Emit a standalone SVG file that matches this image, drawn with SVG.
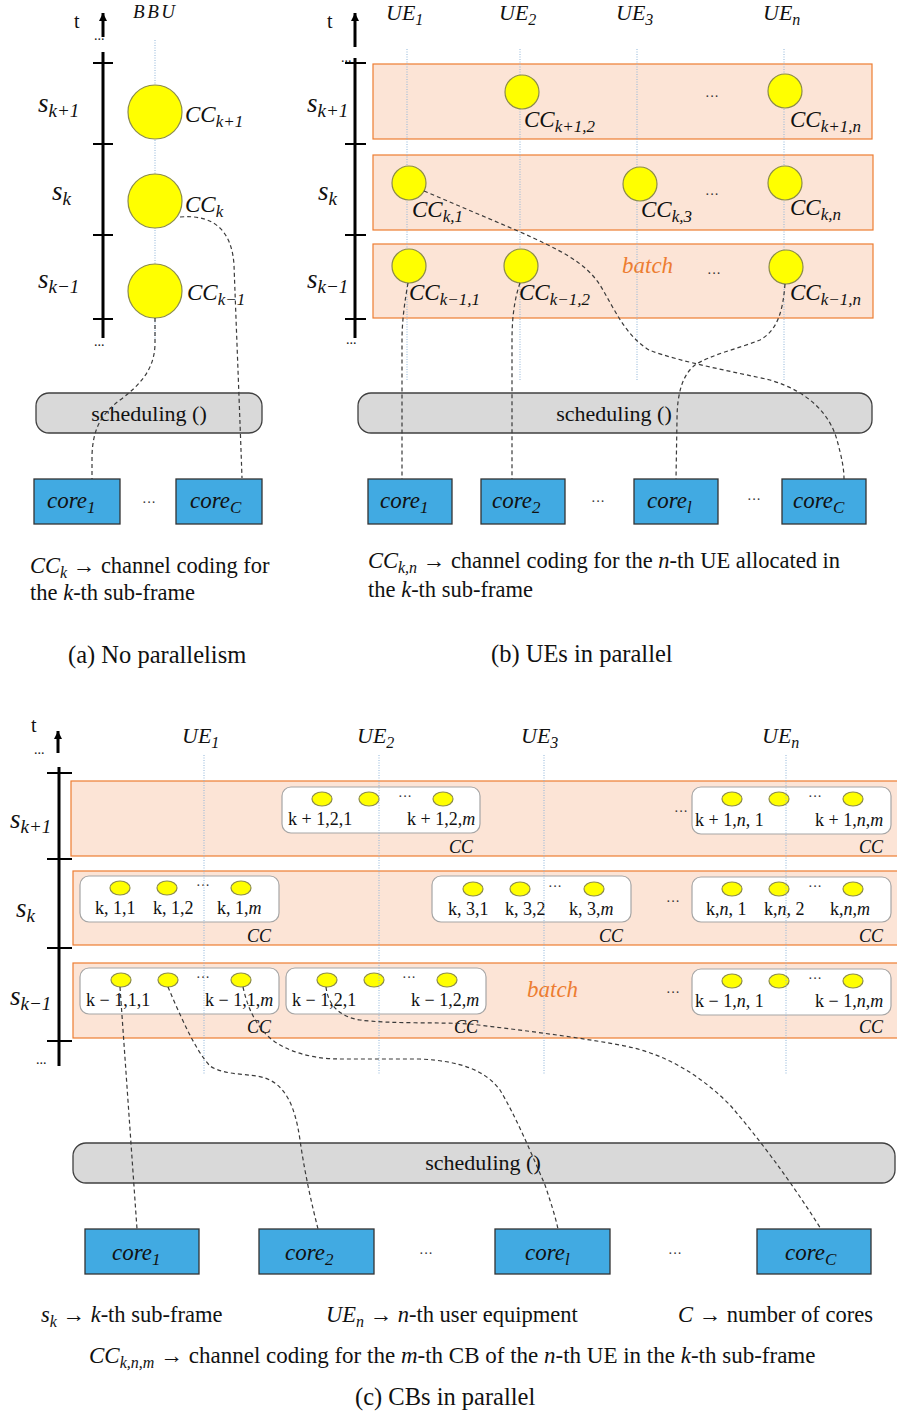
<svg xmlns="http://www.w3.org/2000/svg" width="897" height="1415" viewBox="0 0 897 1415">
<style>
.m{font-family:"Liberation Serif","Times New Roman",serif;font-style:italic;fill:#111}
.r{font-family:"Liberation Serif","Times New Roman",serif;fill:#111}
.lbl{font-family:"Liberation Serif","Times New Roman",serif;font-size:18px;fill:#111}
.ax{stroke:#000;stroke-width:3;fill:none}
.tk{stroke:#000;stroke-width:2}
.guide{stroke:#8fb4d8;stroke-width:1;stroke-dasharray:1 1.5;fill:none}
.dash{stroke:#3a3a3a;stroke-width:1.2;stroke-dasharray:4 3;fill:none}
.cir{fill:#ffff00;stroke:#8c8c4a;stroke-width:1.2}
.batch{fill:#fce4d6;stroke:#ed7d31;stroke-width:1.2}
.grp{fill:#fff;stroke:#a6a6a6;stroke-width:1.2}
.sched{fill:#d9d9d9;stroke:#404040;stroke-width:1.3}
.core{fill:#41aae2;stroke:#333;stroke-width:1.3}
.bt{font-family:"Liberation Serif","Times New Roman",serif;font-style:italic;fill:#ed7d31;font-size:23px}
.dots{font-family:"Liberation Serif","Times New Roman",serif;fill:#333;font-size:14px}
.sl{font-family:"Liberation Serif","Times New Roman",serif;font-style:italic;fill:#111;font-size:27px}
.sl tspan{font-size:19px}
</style>
<defs>
<marker id="ah" viewBox="0 0 10 10" refX="10" refY="5" markerWidth="9" markerHeight="8" markerUnits="userSpaceOnUse" orient="auto"><path d="M0,0 L10,5 L0,10 z" fill="#000"/></marker>
</defs>

<!-- ================= PANEL A ================= -->
<g id="a-axis">
<text class="r" x="74" y="28" font-size="20">t</text>
<line x1="103" y1="37" x2="103" y2="13" class="ax" marker-end="url(#ah)"/>
<text class="r" x="94" y="40" font-size="14">...</text>
<line x1="103" y1="52" x2="103" y2="338" class="ax"/>
<line x1="93" y1="63" x2="113" y2="63" class="tk"/>
<line x1="93" y1="144" x2="113" y2="144" class="tk"/>
<line x1="93" y1="235" x2="113" y2="235" class="tk"/>
<line x1="93" y1="319" x2="113" y2="319" class="tk"/>
<text class="r" x="94" y="346" font-size="14">...</text>
<text class="sl" x="38" y="112">s<tspan dy="5">k+1</tspan></text>
<text class="sl" x="52" y="200">s<tspan dy="5">k</tspan></text>
<text class="sl" x="38" y="288">s<tspan dy="5">k−1</tspan></text>
</g>
<g id="a-bbu">
<text class="m" x="133" y="18" font-size="19" textLength="42">BBU</text>
<line x1="155" y1="40" x2="155" y2="340" class="guide"/>
</g>
<g id="a-cc-k1"><circle cx="155" cy="112" r="27" class="cir"/><text class="m" x="185" y="122" font-size="23">CC<tspan dy="5" font-size="17">k+1</tspan></text></g>
<g id="a-cc-k"><circle cx="155" cy="201" r="27" class="cir"/><text class="m" x="185" y="212" font-size="23">CC<tspan dy="5" font-size="17">k</tspan></text></g>
<g id="a-cc-km1"><circle cx="155" cy="291" r="27" class="cir"/><text class="m" x="187" y="300" font-size="23">CC<tspan dy="5" font-size="17">k−1</tspan></text></g>
<g id="a-sched"><rect x="36" y="393" width="226" height="40" rx="13" class="sched"/><text class="r" x="149" y="421" font-size="22" text-anchor="middle">scheduling ()</text></g>
<g id="a-core1"><rect x="34" y="479" width="86" height="45" class="core"/><text class="m" x="47" y="508" font-size="23">core<tspan dy="5" font-size="17">1</tspan></text></g>
<text class="dots" x="149" y="507" text-anchor="middle">···</text>
<g id="a-coreC"><rect x="176" y="479" width="86" height="45" class="core"/><text class="m" x="190" y="508" font-size="23">core<tspan dy="5" font-size="17">C</tspan></text></g>
<g id="a-caption">
<text class="r" x="30" y="573" font-size="22.5"><tspan class="m">CC</tspan><tspan class="m" dy="5" font-size="16">k</tspan><tspan dy="-5"> → channel coding for</tspan></text>
<text class="r" x="30" y="600" font-size="22.5">the  <tspan class="m">k</tspan>-th sub-frame</text>
<text class="r" x="68" y="663" font-size="24.5">(a)  No parallelism</text>
</g>

<!-- ================= PANEL B ================= -->
<g id="b-axis">
<text class="r" x="327" y="28" font-size="20">t</text>
<line x1="355" y1="47" x2="355" y2="13" class="ax" marker-end="url(#ah)"/>
<text class="r" x="341" y="62" font-size="14">...</text>
<line x1="355" y1="58" x2="355" y2="338" class="ax"/>
<line x1="345" y1="63" x2="366" y2="63" class="tk"/>
<line x1="345" y1="144" x2="366" y2="144" class="tk"/>
<line x1="345" y1="235" x2="366" y2="235" class="tk"/>
<line x1="345" y1="319" x2="366" y2="319" class="tk"/>
<text class="r" x="346" y="344" font-size="14">...</text>
<text class="sl" x="307" y="112">s<tspan dy="5">k+1</tspan></text>
<text class="sl" x="318" y="200">s<tspan dy="5">k</tspan></text>
<text class="sl" x="307" y="288">s<tspan dy="5">k−1</tspan></text>
</g>
<g id="b-batches">
<rect x="373" y="64" width="499" height="75" class="batch"/>
<rect x="373" y="155" width="500" height="75" class="batch"/>
<rect x="373" y="244" width="500" height="74" class="batch"/>
<text class="bt" x="622" y="273">batch</text>
</g>
<g id="b-ues">
<text class="m" x="386" y="20" font-size="22">UE<tspan dy="5" font-size="16">1</tspan></text>
<text class="m" x="499" y="20" font-size="22">UE<tspan dy="5" font-size="16">2</tspan></text>
<text class="m" x="616" y="20" font-size="22">UE<tspan dy="5" font-size="16">3</tspan></text>
<text class="m" x="763" y="20" font-size="22">UE<tspan dy="5" font-size="16">n</tspan></text>
<line x1="407" y1="49" x2="407" y2="380" class="guide"/>
<line x1="520" y1="49" x2="520" y2="380" class="guide"/>
<line x1="637" y1="49" x2="637" y2="380" class="guide"/>
<line x1="784" y1="49" x2="784" y2="380" class="guide"/>
</g>
<g id="b-cc-k1-2"><circle cx="522" cy="92" r="17" class="cir"/><text class="m" x="524" y="127" font-size="23">CC<tspan dy="5" font-size="17">k+1,2</tspan></text></g>
<g id="b-cc-k1-n"><circle cx="785" cy="91" r="17" class="cir"/><text class="m" x="790" y="127" font-size="23">CC<tspan dy="5" font-size="17">k+1,n</tspan></text></g>
<g id="b-cc-k-1"><circle cx="409" cy="183" r="17" class="cir"/><text class="m" x="412" y="217" font-size="23">CC<tspan dy="5" font-size="17">k,1</tspan></text></g>
<g id="b-cc-k-3"><circle cx="640" cy="184" r="17" class="cir"/><text class="m" x="641" y="217" font-size="23">CC<tspan dy="5" font-size="17">k,3</tspan></text></g>
<g id="b-cc-k-n"><circle cx="785" cy="183" r="17" class="cir"/><text class="m" x="790" y="215" font-size="23">CC<tspan dy="5" font-size="17">k,n</tspan></text></g>
<g id="b-cc-km1-1"><circle cx="409" cy="266" r="17" class="cir"/><text class="m" x="409" y="300" font-size="23">CC<tspan dy="5" font-size="17">k−1,1</tspan></text></g>
<g id="b-cc-km1-2"><circle cx="521" cy="266" r="17" class="cir"/><text class="m" x="519" y="300" font-size="23">CC<tspan dy="5" font-size="17">k−1,2</tspan></text></g>
<g id="b-cc-km1-n"><circle cx="786" cy="267" r="17" class="cir"/><text class="m" x="790" y="300" font-size="23">CC<tspan dy="5" font-size="17">k−1,n</tspan></text></g>
<g id="b-dots">
<text class="dots" x="712" y="101" text-anchor="middle">···</text>
<text class="dots" x="712" y="199" text-anchor="middle">···</text>
<text class="dots" x="714" y="278" text-anchor="middle">···</text>
</g>
<g id="b-sched"><rect x="358" y="393" width="514" height="40" rx="13" class="sched"/><text class="r" x="614" y="421" font-size="22" text-anchor="middle">scheduling ()</text></g>
<g id="b-core1"><rect x="368" y="479" width="84" height="45" class="core"/><text class="m" x="380" y="508" font-size="23">core<tspan dy="5" font-size="17">1</tspan></text></g>
<g id="b-core2"><rect x="481" y="479" width="84" height="45" class="core"/><text class="m" x="492" y="508" font-size="23">core<tspan dy="5" font-size="17">2</tspan></text></g>
<g id="b-corel"><rect x="634" y="479" width="84" height="45" class="core"/><text class="m" x="647" y="508" font-size="23">core<tspan dy="5" font-size="17">l</tspan></text></g>
<g id="b-coreC"><rect x="782" y="479" width="84" height="45" class="core"/><text class="m" x="793" y="508" font-size="23">core<tspan dy="5" font-size="17">C</tspan></text></g>
<text class="dots" x="598" y="506" text-anchor="middle">···</text>
<text class="dots" x="754" y="504" text-anchor="middle">···</text>
<g id="b-caption">
<text class="r" x="368" y="568" font-size="22.5"><tspan class="m">CC</tspan><tspan class="m" dy="5" font-size="16">k,n</tspan><tspan dy="-5"> → channel coding for the </tspan><tspan class="m">n</tspan>-th UE allocated in</text>
<text class="r" x="368" y="597" font-size="22.5">the <tspan class="m">k</tspan>-th sub-frame</text>
<text class="r" x="491" y="662" font-size="24.5">(b)  UEs in parallel</text>
</g>

<!-- ================= PANEL C ================= -->
<g id="c-axis">
<text class="r" x="31" y="732" font-size="20">t</text>
<line x1="58" y1="753" x2="58" y2="731" class="ax" marker-end="url(#ah)"/>
<text class="r" x="34" y="754" font-size="14">...</text>
<line x1="59" y1="767" x2="59" y2="1066" class="ax"/>
<line x1="47" y1="773" x2="72" y2="773" class="tk"/>
<line x1="47" y1="859" x2="72" y2="859" class="tk"/>
<line x1="47" y1="948" x2="72" y2="948" class="tk"/>
<line x1="47" y1="1041" x2="72" y2="1041" class="tk"/>
<text class="r" x="36" y="1064" font-size="14">...</text>
<text class="sl" x="10" y="828">s<tspan dy="5">k+1</tspan></text>
<text class="sl" x="16" y="917">s<tspan dy="5">k</tspan></text>
<text class="sl" x="10" y="1005">s<tspan dy="5">k−1</tspan></text>
</g>
<g id="c-batches">
<rect x="71" y="781" width="840" height="75" class="batch"/>
<rect x="73" y="871" width="840" height="74" class="batch"/>
<rect x="73" y="963" width="840" height="75" class="batch"/>
<text class="bt" x="527" y="997">batch</text>
</g>
<g id="c-ues">
<text class="m" x="182" y="743" font-size="22">UE<tspan dy="5" font-size="16">1</tspan></text>
<text class="m" x="357" y="743" font-size="22">UE<tspan dy="5" font-size="16">2</tspan></text>
<text class="m" x="521" y="743" font-size="22">UE<tspan dy="5" font-size="16">3</tspan></text>
<text class="m" x="762" y="743" font-size="22">UE<tspan dy="5" font-size="16">n</tspan></text>
</g>

<!-- row k+1 -->
<g id="c-k1-ue2">
<rect x="282" y="787" width="198" height="46" rx="9" class="grp"/>
<ellipse cx="322" cy="799" rx="10" ry="7" class="cir"/><ellipse cx="369" cy="799" rx="10" ry="7" class="cir"/><ellipse cx="443" cy="799" rx="10" ry="7" class="cir"/>
<text class="dots" x="405" y="801" text-anchor="middle">···</text>
<text class="lbl" x="288" y="825">k + 1,2,1</text><text class="lbl" x="407" y="825">k + 1,2,<tspan class="m">m</tspan></text>
<text class="m" x="449" y="853" font-size="18">CC</text>
</g>
<g id="c-k1-uen">
<rect x="692" y="787" width="199" height="47" rx="9" class="grp"/>
<ellipse cx="732" cy="799" rx="10" ry="7" class="cir"/><ellipse cx="779" cy="799" rx="10" ry="7" class="cir"/><ellipse cx="853" cy="799" rx="10" ry="7" class="cir"/>
<text class="dots" x="815" y="801" text-anchor="middle">···</text>
<text class="lbl" x="695" y="826">k + 1,<tspan class="m">n</tspan>, 1</text><text class="lbl" x="815" y="826">k + 1,<tspan class="m">n</tspan>,<tspan class="m">m</tspan></text>
<text class="m" x="859" y="853" font-size="18">CC</text>
</g>
<text class="dots" x="681" y="816" text-anchor="middle">···</text>

<!-- row k -->
<g id="c-k-ue1">
<rect x="80" y="876" width="199" height="46" rx="9" class="grp"/>
<ellipse cx="120" cy="888" rx="10" ry="7" class="cir"/><ellipse cx="167" cy="888" rx="10" ry="7" class="cir"/><ellipse cx="241" cy="888" rx="10" ry="7" class="cir"/>
<text class="dots" x="203" y="890" text-anchor="middle">···</text>
<text class="lbl" x="95" y="914">k, 1,1</text><text class="lbl" x="153" y="914">k, 1,2</text><text class="lbl" x="217" y="914">k, 1,<tspan class="m">m</tspan></text>
<text class="m" x="247" y="942" font-size="18">CC</text>
</g>
<g id="c-k-ue3">
<rect x="432" y="876" width="199" height="46" rx="9" class="grp"/>
<ellipse cx="473" cy="889" rx="10" ry="7" class="cir"/><ellipse cx="520" cy="889" rx="10" ry="7" class="cir"/><ellipse cx="594" cy="889" rx="10" ry="7" class="cir"/>
<text class="dots" x="555" y="891" text-anchor="middle">···</text>
<text class="lbl" x="448" y="915">k, 3,1</text><text class="lbl" x="505" y="915">k, 3,2</text><text class="lbl" x="569" y="915">k, 3,<tspan class="m">m</tspan></text>
<text class="m" x="599" y="942" font-size="18">CC</text>
</g>
<g id="c-k-uen">
<rect x="692" y="877" width="199" height="45" rx="9" class="grp"/>
<ellipse cx="732" cy="889" rx="10" ry="7" class="cir"/><ellipse cx="779" cy="889" rx="10" ry="7" class="cir"/><ellipse cx="853" cy="889" rx="10" ry="7" class="cir"/>
<text class="dots" x="815" y="891" text-anchor="middle">···</text>
<text class="lbl" x="706" y="915">k,<tspan class="m">n</tspan>, 1</text><text class="lbl" x="764" y="915">k,<tspan class="m">n</tspan>, 2</text><text class="lbl" x="830" y="915">k,<tspan class="m">n</tspan>,<tspan class="m">m</tspan></text>
<text class="m" x="859" y="942" font-size="18">CC</text>
</g>
<text class="dots" x="673" y="906" text-anchor="middle">···</text>

<!-- row k-1 -->
<g id="c-km1-ue1">
<rect x="80" y="968" width="199" height="46" rx="9" class="grp"/>
<ellipse cx="121" cy="980" rx="10" ry="7" class="cir"/><ellipse cx="168" cy="980" rx="10" ry="7" class="cir"/><ellipse cx="241" cy="980" rx="10" ry="7" class="cir"/>
<text class="dots" x="203" y="982" text-anchor="middle">···</text>
<text class="lbl" x="86" y="1006">k − 1,1,1</text><text class="lbl" x="205" y="1006">k − 1,1,<tspan class="m">m</tspan></text>
<text class="m" x="247" y="1033" font-size="18">CC</text>
</g>
<g id="c-km1-ue2">
<rect x="286" y="968" width="200" height="46" rx="9" class="grp"/>
<ellipse cx="327" cy="980" rx="10" ry="7" class="cir"/><ellipse cx="374" cy="980" rx="10" ry="7" class="cir"/><ellipse cx="447" cy="980" rx="10" ry="7" class="cir"/>
<text class="dots" x="409" y="982" text-anchor="middle">···</text>
<text class="lbl" x="292" y="1006">k − 1,2,1</text><text class="lbl" x="411" y="1006">k − 1,2,<tspan class="m">m</tspan></text>
<text class="m" x="454" y="1033" font-size="18">CC</text>
</g>
<g id="c-km1-uen">
<rect x="692" y="969" width="199" height="46" rx="9" class="grp"/>
<ellipse cx="732" cy="981" rx="10" ry="7" class="cir"/><ellipse cx="779" cy="981" rx="10" ry="7" class="cir"/><ellipse cx="853" cy="981" rx="10" ry="7" class="cir"/>
<text class="dots" x="815" y="983" text-anchor="middle">···</text>
<text class="lbl" x="695" y="1007">k − 1,<tspan class="m">n</tspan>, 1</text><text class="lbl" x="815" y="1007">k − 1,<tspan class="m">n</tspan>,<tspan class="m">m</tspan></text>
<text class="m" x="859" y="1033" font-size="18">CC</text>
</g>
<text class="dots" x="673" y="997" text-anchor="middle">···</text>

<g id="c-guides">
<line x1="204" y1="755" x2="204" y2="1075" class="guide"/>
<line x1="379" y1="755" x2="379" y2="1075" class="guide"/>
<line x1="544" y1="755" x2="544" y2="1075" class="guide"/>
<line x1="786" y1="755" x2="786" y2="1075" class="guide"/>
</g>

<g id="c-sched"><rect x="73" y="1143" width="822" height="40" rx="13" class="sched"/><text class="r" x="483" y="1170" font-size="22" text-anchor="middle">scheduling ()</text></g>
<g id="c-core1"><rect x="85" y="1229" width="114" height="45" class="core"/><text class="m" x="112" y="1260" font-size="23">core<tspan dy="5" font-size="17">1</tspan></text></g>
<g id="c-core2"><rect x="259" y="1229" width="115" height="45" class="core"/><text class="m" x="285" y="1260" font-size="23">core<tspan dy="5" font-size="17">2</tspan></text></g>
<g id="c-corel"><rect x="495" y="1229" width="115" height="45" class="core"/><text class="m" x="525" y="1260" font-size="23">core<tspan dy="5" font-size="17">l</tspan></text></g>
<g id="c-coreC"><rect x="757" y="1229" width="114" height="45" class="core"/><text class="m" x="785" y="1260" font-size="23">core<tspan dy="5" font-size="17">C</tspan></text></g>
<text class="dots" x="426" y="1258" text-anchor="middle">···</text>
<text class="dots" x="675" y="1258" text-anchor="middle">···</text>

<g id="c-legend">
<text class="r" x="41" y="1322" font-size="22.5"><tspan class="m">s</tspan><tspan class="m" dy="5" font-size="16">k</tspan><tspan dy="-5"> → </tspan><tspan class="m">k</tspan>-th sub-frame</text>
<text class="r" x="326" y="1322" font-size="22.5"><tspan class="m">UE</tspan><tspan class="m" dy="5" font-size="16">n</tspan><tspan dy="-5"> →  </tspan><tspan class="m">n</tspan>-th user equipment</text>
<text class="r" x="678" y="1322" font-size="22.5"><tspan class="m">C</tspan>  → number of cores</text>
<text class="r" x="89" y="1363" font-size="23"><tspan class="m">CC</tspan><tspan class="m" dy="5" font-size="16">k,n,m</tspan><tspan dy="-5"> → channel coding for the  </tspan><tspan class="m">m</tspan>-th CB of the <tspan class="m">n</tspan>-th UE in the <tspan class="m">k</tspan>-th sub-frame</text>
<text class="r" x="355" y="1405" font-size="24.5">(c)  CBs in parallel</text>
</g>

<!-- ================= CONNECTORS ================= -->
<g id="connectors">
<path class="dash" d="M180,217 C215,214 232,232 234,265 C236,320 240,420 242,478"/>
<path class="dash" d="M155,318 L155,345 C154,370 140,385 120,400 C100,415 93,430 92,455 L92,479"/>
<path class="dash" d="M408,283 C405,300 402,320 402,340 L402,479"/>
<path class="dash" d="M520,283 C514,300 512,320 512,340 L512,479"/>
<path class="dash" d="M424,191 L518,231 C560,250 585,262 600,285 C615,310 625,335 649,350 C680,362 735,372 770,380 C810,392 830,415 837,440 C841,455 844,467 844,479"/>
<path class="dash" d="M785,284 C783,310 778,330 760,340 C740,348 710,355 695,365 C682,375 677,395 677,420 L676,479"/>
<path class="dash" d="M120,987 L137,1229"/>
<path class="dash" d="M168,987 C180,1015 195,1050 210,1066 C225,1076 250,1073 265,1078 C285,1085 295,1105 300,1140 C305,1175 312,1205 318,1229"/>
<path class="dash" d="M243,987 C248,1010 258,1030 275,1042 C295,1055 320,1059 340,1059 L420,1059 C460,1061 485,1070 500,1090 C515,1115 530,1150 545,1185 C550,1200 555,1215 558,1229"/>
<path class="dash" d="M326,987 C328,1005 340,1017 360,1020 C390,1024 440,1022 470,1024 C520,1030 570,1036 620,1045 C665,1053 700,1075 730,1105 C760,1140 790,1180 821,1229"/>
</g>
</svg>
